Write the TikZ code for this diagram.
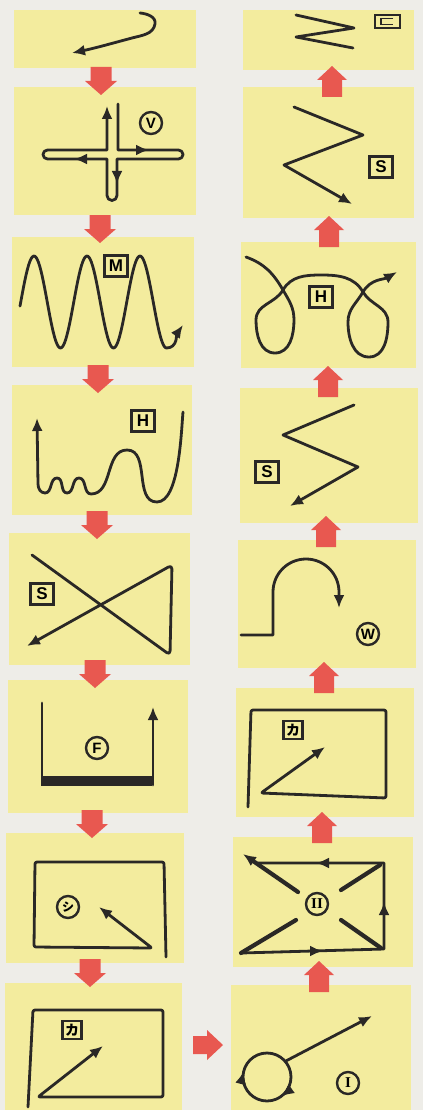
\documentclass[tikz,border=0pt]{standalone}
\usepackage{fontspec}
\setmainfont{Liberation Sans}
\newfontfamily\jpfont{Noto Sans CJK JP}
\newfontfamily\romfont{Liberation Serif}
\usetikzlibrary{arrows.meta}
\definecolor{bgc}{RGB}{238,237,232}
\definecolor{panel}{RGB}{243,236,158}
\definecolor{redarr}{RGB}{232,88,80}
\definecolor{ink}{RGB}{42,40,38}
\tikzset{
  ln/.style={draw=ink, line width=2.8pt, line join=round, line cap=round},
  arrowend/.style={-{Latex[length=13pt,width=11pt]}},
  arrowstart/.style={{Latex[length=13pt,width=11pt]}-},
  boxlbl/.style={draw=ink, line width=2.2pt, fill=panel, minimum width=23pt, minimum height=21pt, inner sep=0pt, font=\fontsize{17}{17}\selectfont\bfseries},
  smallbox/.style={boxlbl, minimum width=19pt, minimum height=18pt, font=\jpfont\fontsize{14}{14}\selectfont\bfseries},
  circlbl/.style={circle, draw=ink, line width=2.4pt, fill=panel, minimum size=22pt, inner sep=0pt, font=\fontsize{15}{15}\selectfont\bfseries},
  dnarrow/.pic={\fill[redarr] (-10.5,0) -- (10.5,0) -- (10.5,-14) -- (16,-14) -- (0,-28) -- (-16,-14) -- (-10.5,-14) -- cycle;},
  uparrow/.pic={\fill[redarr] (-10,0) -- (10,0) -- (10,17) -- (15,17) -- (0,31) -- (-15,17) -- (-10,17) -- cycle;},
  rtarrow/.pic={\fill[redarr] (0,-9) -- (14,-9) -- (14,-15) -- (30,0) -- (14,15) -- (14,9) -- (0,9) -- cycle;}
}
\begin{document}
\begin{tikzpicture}[x=1pt,y=1pt]
\fill[bgc] (0,0) rectangle (423,-1110);
\useasboundingbox (0,0) rectangle (423,-1110);
% panels left
\fill[panel] (14,-10) rectangle (196,-68);
\fill[panel] (14,-87) rectangle (196,-215);
\fill[panel] (12,-237) rectangle (194,-367);
\fill[panel] (12,-385) rectangle (192,-515);
\fill[panel] (9,-533) rectangle (190,-665);
\fill[panel] (8,-680) rectangle (188,-813);
\fill[panel] (6,-833) rectangle (184,-963);
\fill[panel] (5,-983) rectangle (182,-1110);
% panels right
\fill[panel] (243,-10) rectangle (414,-70);
\fill[panel] (243,-87) rectangle (414,-218);
\fill[panel] (241,-242) rectangle (416,-368);
\fill[panel] (240,-388) rectangle (418,-523);
\fill[panel] (238,-540) rectangle (416,-668);
\fill[panel] (236,-688) rectangle (414,-817);
\fill[panel] (233,-837) rectangle (413,-967);
\fill[panel] (231,-985) rectangle (411,-1110);
% red block arrows
\pic at (101,-67) {dnarrow};
\pic at (100,-215) {dnarrow};
\pic at (98,-365) {dnarrow};
\pic at (97,-511) {dnarrow};
\pic at (95,-660) {dnarrow};
\pic at (92,-810) {dnarrow};
\pic at (90,-959) {dnarrow};
\pic at (193,-1045) {rtarrow};
\pic at (332,-97) {uparrow};
\pic at (329,-247) {uparrow};
\pic at (328,-397) {uparrow};
\pic at (326,-547) {uparrow};
\pic at (324,-693) {uparrow};
\pic at (322,-843) {uparrow};
\pic at (319,-992) {uparrow};

% L1 hook
\draw[ln,arrowend] (140,-13) to[out=-5,in=80] (155,-24) to[out=-100,in=15] (132,-38) to[out=195,in=12] (72,-53);

% L2 cross
\draw[ln,arrowend] (118,-104) -- (118,-150) -- (178.5,-150) arc[start angle=90,end angle=-90,radius=4.5]
  -- (117,-159) -- (117,-195.5) arc[start angle=0,end angle=-180,radius=5]
  -- (107,-159) -- (47.5,-159) arc[start angle=270,end angle=90,radius=4.5]
  -- (107,-150) -- (107,-106);
\draw[ln,arrowend] (136,-150) -- (149,-150);
\draw[ln,arrowend] (87,-159) -- (74,-159);
\draw[ln,arrowend] (117,-170) -- (117,-184);
\node[circlbl] (lV) at (151,-123) {V};

% L3 wave
\draw[ln,arrowend] plot[domain=20:166.5,samples=120] (\x,{-302+46*cos(6.7925*(\x-34))})
  to[out=0,in=-125] (183,-325);
\node[boxlbl] (lM) at (116,-266) {M};

% L4 wiggle
\draw[ln,arrowstart] (37,-418) -- (38,-484) to[out=-90,in=180] (45,-493) to[out=0,in=180] (57,-478)
  to[out=0,in=180] (67,-493) to[out=0,in=180] (79,-478) to[out=0,in=180] (91,-494)
  to[out=0,in=180] (127,-450) to[out=0,in=180] (157,-502) to[out=0,in=-95,looseness=0.6] (183,-412);
\node[boxlbl] (lH) at (143,-421) {H};

% L5 cross
\draw[ln,arrowend,rounded corners=4pt] (32,-555) -- (170,-655) -- (172,-565) -- (27,-646);
\node[boxlbl] (lS) at (42,-594) {S};

% L6 U
\draw[ln] (42,-703) -- (42,-782);
\fill[ink] (40.6,-776) rectangle (152,-786);
\draw[ln,arrowend] (153,-785) -- (153,-707);
\node[circlbl] (lF) at (97,-748) {F};

% L7
\draw[ln,arrowend,rounded corners=2pt] (166,-957) -- (164,-862) -- (35,-862) -- (34,-947) -- (152,-948) -- (99,-907);
\node[circlbl] (lShi) at (68,-907) {\jpfont\fontsize{12}{12}\selectfont\bfseries シ};

% L8
\draw[ln,arrowend,rounded corners=2pt] (28,-1107) -- (33,-1010) -- (163,-1010) -- (163,-1097) -- (38,-1097) -- (103,-1046);
\node[smallbox] (lKa) at (72,-1030) {カ};

% R1
\draw[ln] (296,-15) -- (354,-28) -- (296,-37) -- (353,-48);
\draw[ink,line width=1.8pt] (375,-15) rectangle (400,-28);
\draw[ink,line width=1.8pt] (393,-18.5) -- (381,-18.5) -- (381,-24.5) -- (393,-24.5);

% R2
\draw[ln,arrowend] (294,-107) -- (363,-135) -- (284,-165) -- (352,-204);
\node[boxlbl] (rS1) at (381,-167) {S};

% R3 loops
\draw[ln,arrowend] (246,-257) to[out=-20,in=120] (283,-290) to[out=-60,in=90] (294,-320)
  to[out=-90,in=0] (275,-353) to[out=180,in=-90] (256,-320) to[out=90,in=-120] (283,-290)
  to[out=60,in=180] (321,-275) to[out=0,in=120] (363,-292) to[out=-60,in=90] (388,-322)
  to[out=-90,in=0] (369,-357) to[out=180,in=-90] (348,-322) to[out=90,in=-120] (363,-292)
  to[out=60,in=-150] (397,-272);
\node[boxlbl] (rH) at (321,-297) {H};

% R4
\draw[ln,arrowend] (354,-405) -- (283,-435) -- (358,-467) -- (290,-506);
\node[boxlbl] (rS2) at (267,-472) {S};

% R5
\draw[ln,arrowend] (241,-635) -- (273,-635) -- (273,-592) arc[start angle=180,end angle=0,radius=33] -- (339,-608);
\node[circlbl] (rW) at (368,-634) {W};

% R6
\draw[ln,arrowend,rounded corners=2pt] (248,-807) -- (251,-710) -- (386,-710) -- (386,-798) -- (261,-793) -- (325,-747);
\node[smallbox] (rKa) at (293,-730) {カ};

% R7
\draw[ln] (241,-953) -- (384,-949) -- (384,-863) -- (258,-863);
\draw[ln,arrowend] (309,-951) -- (323,-951);
\draw[ln,arrowend] (384,-916) -- (384,-902);
\draw[ln,arrowend] (330,-863) -- (316,-863);
\draw[ln,line width=4.2pt,arrowend] (298,-892) -- (243,-854);
\draw[ln,line width=4.2pt] (341,-890) -- (380,-865);
\draw[ln,line width=4.2pt] (241,-953) -- (296,-920);
\draw[ln,line width=4.2pt] (341,-920) -- (381,-948);
\node[circlbl] (rII) at (317,-904) {\romfont\bfseries II};

% R8
\node[circle, draw=ink, line width=2.8pt, minimum size=48pt, inner sep=0pt] (loop) at (267,-1077) {};
\coordinate (aimI) at (372,-1016);
\draw[ln,arrowend] (loop.40) -- (aimI);
\draw[ln,arrowend] (267,-1077) ++(197:24) arc[start angle=197,end angle=166,radius=24];
\draw[ln,arrowend] (267,-1077) ++(-24:24) arc[start angle=-24,end angle=-54,radius=24];
\node[circlbl] (rI) at (348,-1083) {\romfont\bfseries I};
\end{tikzpicture}
\end{document}
